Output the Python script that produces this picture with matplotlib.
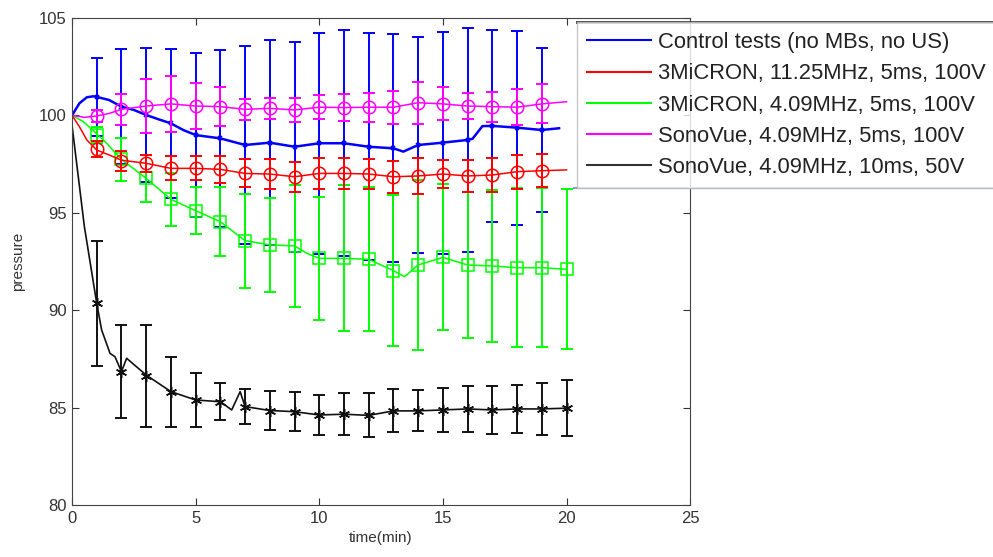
import matplotlib
matplotlib.use("Agg")
import matplotlib.pyplot as plt
from matplotlib.lines import Line2D

plt.rcParams['font.family'] = ['Liberation Sans', 'DejaVu Sans']

labels = [
    "Control tests (no MBs, no US)",
    "3MiCRON, 11.25MHz, 5ms, 100V",
    "3MiCRON, 4.09MHz, 5ms, 100V",
    "SonoVue, 4.09MHz, 5ms, 100V",
    "SonoVue, 4.09MHz, 10ms, 50V",
]

# minute marks (markers + error bars)
t19 = list(range(1, 20))
t20 = list(range(1, 21))

blue_y = [100.95, 100.45, 100.02, 99.59, 98.99, 98.82, 98.48, 98.60, 98.39, 98.57,
          98.57, 98.39, 98.31, 98.48, 98.60, 98.74, 99.46, 99.37, 99.25]
blue_err = [2.0, 2.96, 3.46, 3.82, 4.23, 4.54, 5.1, 5.27, 5.4, 5.68,
            5.79, 5.82, 5.85, 5.52, 5.7, 5.76, 4.92, 4.98, 4.2]

red_y = [98.26, 97.67, 97.54, 97.28, 97.28, 97.23, 97.02, 96.99, 96.85, 97.02,
         97.02, 96.99, 96.85, 96.89, 96.99, 96.89, 96.94, 97.11, 97.16]
red_err = [0.4, 0.5, 0.45, 0.61, 0.62, 0.7, 0.72, 0.75, 0.78, 0.78,
           0.8, 0.77, 0.82, 0.92, 0.7, 0.8, 0.87, 0.88, 0.86]

green_y = [99.0, 97.74, 96.77, 95.69, 95.11, 94.54, 93.57, 93.35, 93.3, 92.66,
           92.66, 92.61, 92.03, 92.32, 92.71, 92.32, 92.27, 92.18, 92.18, 92.1]
green_err = [0.4, 1.1, 1.2, 1.35, 1.2, 1.76, 2.42, 2.4, 3.15, 3.16,
             3.75, 3.7, 3.87, 4.36, 3.75, 3.74, 3.89, 4.08, 4.08, 4.1]

mag_y = [99.97, 100.31, 100.48, 100.59, 100.48, 100.45, 100.31, 100.36, 100.28, 100.42,
         100.40, 100.42, 100.42, 100.65, 100.59, 100.48, 100.45, 100.42, 100.59]
mag_err = [0.3, 0.8, 1.37, 1.43, 1.17, 1.0, 0.55, 0.55, 0.6, 0.63,
           0.68, 0.75, 0.85, 1.08, 0.85, 0.69, 0.77, 0.92, 1.0]

black_y = [90.35, 86.84, 86.62, 85.82, 85.39, 85.3, 85.05, 84.85, 84.79, 84.62,
           84.66, 84.6, 84.83, 84.83, 84.88, 84.93, 84.88, 84.93, 84.93, 84.97]
black_err = [3.2, 2.38, 2.6, 1.8, 1.4, 0.95, 0.9, 1.0, 1.0, 1.05,
             1.07, 1.13, 1.1, 1.05, 1.15, 1.18, 1.22, 1.25, 1.35, 1.43]

# continuous traces
blue_tt = [0, 0.3, 0.6, 0.86, 1, 1.5, 2, 2.5, 3, 3.5, 4, 4.5, 5, 6, 7, 8, 9, 10,
           11, 12, 13, 13.4, 14, 15, 16, 16.2, 16.6, 17, 18, 19, 19.7]
blue_tr = [100.0, 100.62, 100.93, 100.98, 100.95, 100.79, 100.45, 100.28, 100.02, 99.8,
           99.59, 99.25, 98.99, 98.82, 98.48, 98.60, 98.39, 98.57,
           98.57, 98.39, 98.31, 98.14, 98.48, 98.60, 98.74, 98.8, 99.45, 99.46, 99.37, 99.25, 99.34]

red_tt = [0, 0.3, 0.6, 1, 1.5, 2, 3, 4, 5, 6, 7, 8, 9, 10, 11, 12, 13, 14, 15, 16,
          17, 18, 19, 20]
red_tr = [100.0, 99.42, 98.74, 98.22, 97.97, 97.7, 97.54, 97.28, 97.28, 97.23, 97.02,
          96.99, 96.85, 97.02, 97.02, 96.99, 96.85, 96.89, 96.99, 96.89, 96.94, 97.11,
          97.16, 97.2]

green_tt = [0, 0.46, 1, 1.4, 2, 3, 4, 5, 6, 7, 8, 9, 9.5, 10, 11, 12, 13, 13.45, 14,
            15, 16, 17, 18, 19, 20]
green_tr = [100.0, 99.68, 99.05, 98.57, 97.74, 96.77, 95.69, 95.11, 94.54, 93.57,
            93.35, 93.3, 92.92, 92.66, 92.66, 92.61, 92.03, 91.72, 92.32, 92.71, 92.32,
            92.27, 92.18, 92.18, 92.1]

mag_tt = [0, 0.5, 1, 1.5, 2, 3, 4, 5, 6, 7, 8, 9, 10, 11, 12, 13, 14, 15, 16, 17,
          18, 19, 20]
mag_tr = [100.0, 99.9, 99.97, 100.1, 100.31, 100.48, 100.59, 100.48, 100.45, 100.31,
          100.36, 100.28, 100.42, 100.40, 100.42, 100.42, 100.65, 100.59, 100.48,
          100.45, 100.42, 100.59, 100.7]

black_tt = [0, 0.5, 1, 1.2, 1.54, 1.74, 2, 2.21, 3, 4, 5, 6, 6.46, 6.8, 7, 8, 9, 10,
            11, 12, 13, 14, 15, 16, 17, 18, 19, 20]
black_tr = [99.5, 94.3, 90.35, 88.98, 87.78, 87.61, 86.84, 87.53, 86.67, 85.82, 85.39,
            85.3, 84.88, 85.82, 85.05, 84.85, 84.79, 84.62, 84.66, 84.6, 84.83, 84.83,
            84.88, 84.93, 84.88, 84.93, 84.93, 84.97]

fig = plt.figure(figsize=(9.93, 5.57), dpi=100)
ax = fig.add_axes([0.0725, 0.0934, 0.6225, 0.8743])

asterisk = (6, 2, 0)
series = [
    (blue_tt, blue_tr, t19, blue_y, blue_err, "#0000ff", "x", 3.5, 1.8),
    (green_tt, green_tr, t20, green_y, green_err, "#00ff00", "s", 9, 1.1),
    (red_tt, red_tr, t19, red_y, red_err, "#ff0000", "o", 9, 1.1),
    (mag_tt, mag_tr, t19, mag_y, mag_err, "#ff00ff", "o", 9, 1.1),
    (black_tt, black_tr, t20, black_y, black_err, "#111111", asterisk, 8, 1.2),
]
for tt, tr, tm, ym, err, c, mk, ms, lw in series:
    ax.plot(tt, tr, color=c, lw=lw)
    ax.errorbar(tm, ym, yerr=err, fmt="none", ecolor=c, elinewidth=1.4,
                capsize=4, capthick=1.4)
    ax.plot(tm, ym, ls="none", marker=mk, color=c, mfc="none", mec=c, ms=ms, mew=1.1)

ax.set_xlim(0, 25)
ax.set_ylim(80, 105)
ax.set_xticks(range(0, 26, 5))
ax.set_yticks(range(80, 106, 5))
ax.tick_params(direction="in", top=True, right=True, length=5, labelsize=12,
               colors="#333333", pad=4)
for s in ax.spines.values():
    s.set_color("#444444")
ax.set_xlabel("time(min)", fontsize=11, color="#333333", labelpad=4)
ax.set_ylabel("pressure", fontsize=11, color="#333333", labelpad=10)

colors = ["#0000ff", "#ff0000", "#00ff00", "#ff00ff", "#333333"]
handles = [Line2D([], [], color=c, lw=1.5) for c in colors]
leg = fig.legend(handles, labels, loc="upper left",
                 bbox_to_anchor=(577 / 993, (557 - 22) / 557),
                 prop={"size": 15.8}, frameon=True, fancybox=False,
                 borderpad=0.45, handlelength=2.9, handletextpad=0.36,
                 labelspacing=0.47, borderaxespad=0)
leg.get_frame().set_edgecolor("#bbbbbb")
leg.get_frame().set_linewidth(1.0)
for txt in leg.get_texts():
    txt.set_color("#222222")

fig.canvas.draw()
bb = leg.get_window_extent().transformed(fig.transFigure.inverted())
fig.add_artist(Line2D([bb.x0, 1], [bb.y1, bb.y1], color="#333333", lw=2,
                      transform=fig.transFigure))
fig.add_artist(Line2D([bb.x0 - 0.003, 1], [bb.y0, bb.y0], color="#7aa3d8", lw=1.5,
                      transform=fig.transFigure))

fig.savefig("out.png", dpi=100)
